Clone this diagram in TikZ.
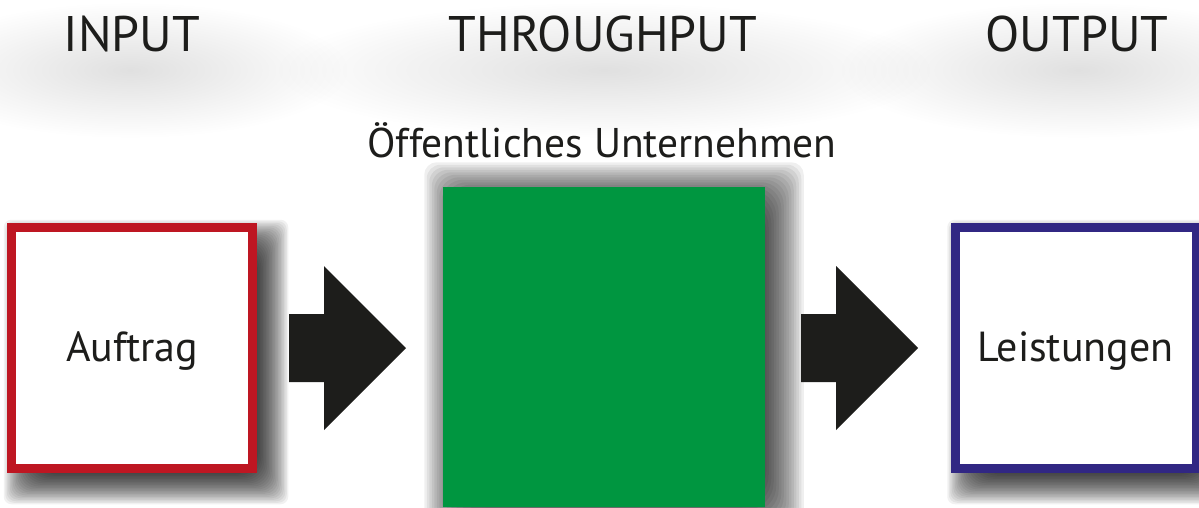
\documentclass[tikz,border=0pt]{standalone}
\usepackage{fontspec}
\setmainfont{PT Sans}
\usetikzlibrary{calc,fadings}
\definecolor{boxred}{RGB}{190,22,34}
\definecolor{boxblue}{RGB}{49,39,131}
\definecolor{boxgreen}{RGB}{0,150,64}
\definecolor{inkblack}{RGB}{29,29,27}
\tikzfading[name=softhaze, inner color=transparent!0, outer color=transparent!100]
% soft drop shadow behind a node: #1 node, #2 xshift, #3 yshift (down), #4 blur radius, #5 peak opacity
\newcommand\mysoftshadow[5]{%
  \pgfmathsetmacro\sslayer{1-(1-#5)^(1/24)}%
  \foreach \ssi in {0,...,23}{%
    \pgfmathsetmacro\sse{#4-2*#4*(\ssi+0.5)/24}%
    \pgfmathsetmacro\ssr{max(#4*0.9-\sse*0.5,1)}%
    \fill[black, opacity=\sslayer, rounded corners=\ssr pt]
      ($(#1.north west)+(#2-\sse,#3-\sse)$) rectangle ($(#1.south east)+(#2+\sse,#3+\sse)$);
  }%
}
\begin{document}
\begin{tikzpicture}[x=1pt,y=-1pt,
  title/.style={font=\fontsize{50}{50}\selectfont, text=inkblack, inner sep=0pt, anchor=base},
  boxlabel/.style={font=\fontsize{42}{42}\selectfont, text=inkblack, inner sep=0pt, anchor=base},
  haze/.style={fill=black, opacity=0.12, path fading=softhaze},
  framebox/.style={draw, line width=9pt, fill=white, minimum width=250pt, minimum height=250pt, inner sep=0pt, outer sep=0pt},
  blockarrow/.style={fill=inkblack},
]
\useasboundingbox (0,0) rectangle (1199,507);
\clip (0,0) rectangle (1199,507);
\fill[white] (0,0) rectangle (1199,507);
% title hazes
\fill[haze] (130,70) ellipse [x radius=220pt, y radius=68pt];
\fill[haze] (1078,70) ellipse [x radius=240pt, y radius=68pt];
\fill[haze] (604,70) ellipse [x radius=330pt, y radius=68pt];
% titles
\node[title] (tin) at (132,51) {INPUT};
\node[title] (tthr) at (603,51) {THROUGHPUT};
\node[title] (tout) at (1077,51) {OUTPUT};
% node shapes (invisible) to place shadows
\path (604,347) node[minimum width=322pt, minimum height=320pt, inner sep=0pt, outer sep=0pt] (thrsh) {};
\path (132,348) node[minimum width=250pt, minimum height=250pt, inner sep=0pt, outer sep=0pt] (insh) {};
\path (1075.5,348) node[minimum width=250pt, minimum height=250pt, inner sep=0pt, outer sep=0pt] (outsh) {};
% shadows
\mysoftshadow{thrsh}{10}{4}{30}{0.8}
\mysoftshadow{insh}{14}{14}{18}{0.75}
\mysoftshadow{outsh}{14}{14}{18}{0.75}
% central box
\node[fill=boxgreen, minimum width=322pt, minimum height=320pt, inner sep=0pt, outer sep=0pt] (thr) at (thrsh) {};
\node[boxlabel, font=\fontsize{41.5}{41.5}\selectfont] (sub) at (602,157) {Öffentliches Unternehmen};
% side boxes (border drawn inside the outer edge)
\node[framebox, draw=none] (in) at (insh) {};
\draw[boxred, line width=9pt] ($(in.north west)+(4.5,4.5)$) rectangle ($(in.south east)+(-4.5,-4.5)$);
\node[boxlabel] at (in.center) [anchor=center, yshift=-3pt] {Auftrag};
\node[framebox, draw=none] (out) at (outsh) {};
\draw[boxblue, line width=9pt] ($(out.north west)+(4.5,4.5)$) rectangle ($(out.south east)+(-4.5,-4.5)$);
\node[boxlabel] at (out.center) [anchor=center, yshift=-3pt] {Leistungen};
% block arrows
\fill[blockarrow] (289,314) -- (324,314) -- (324,266) -- (406,348) -- (324,430) -- (324,382) -- (289,382) -- cycle;
\fill[blockarrow] (801,314) -- (836,314) -- (836,266) -- (918,348) -- (836,430) -- (836,382) -- (801,382) -- cycle;
\end{tikzpicture}
\end{document}
